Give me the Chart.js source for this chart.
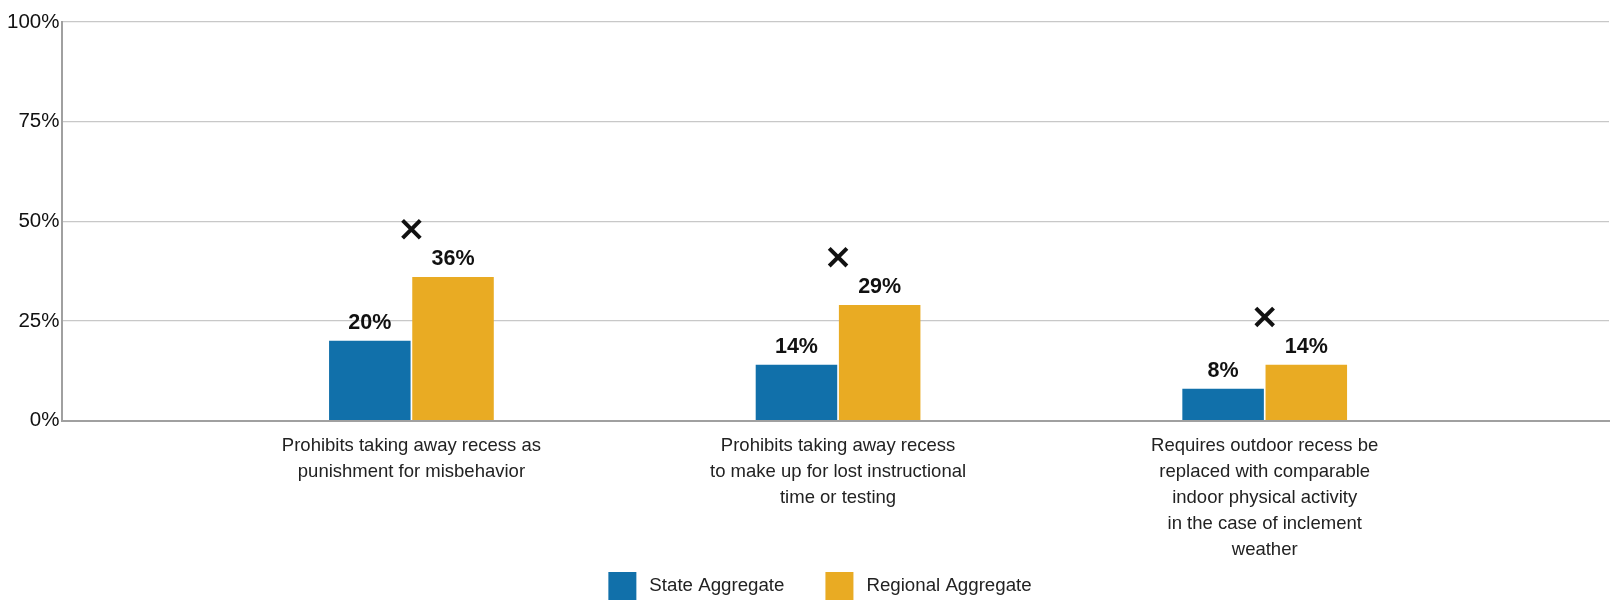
<!DOCTYPE html>
<html>
<head>
<meta charset="utf-8">
<script src="https://cdn.jsdelivr.net/npm/chart.js@4.4.1/dist/chart.umd.min.js"></script>
<style>
html,body{margin:0;padding:0;background:#fff;}
#wrap{width:1611px;height:602px;position:relative;}
</style>
</head>
<body>
<div id="wrap"><canvas id="c" width="1611" height="602"></canvas></div>
<script>
const categories = [
  ["Prohibits taking away recess as", "punishment for misbehavior"],
  ["Prohibits taking away recess", "to make up for lost instructional", "time or testing"],
  ["Requires outdoor recess be", "replaced with comparable", "indoor physical activity", "in the case of inclement", "weather"]
];
const stateValues = [20, 14, 8];
const regionalValues = [36, 29, 14];
const markerValues = [48, 41, 26];
const yTicks = [0, 25, 50, 75, 100];
const seriesNames = ["State Aggregate", "Regional Aggregate"];

const FONT = "'Liberation Sans', Arial, sans-serif";

const labelPlugin = {
  id: 'barLabels',
  afterDatasetsDraw(chart) {
    const ctx = chart.ctx;
    ctx.save();
    ctx.font = "bold 21.5px " + FONT;
    ctx.fillStyle = "#111";
    ctx.textAlign = "center";
    ctx.textBaseline = "alphabetic";
    [0, 1].forEach(di => {
      const meta = chart.getDatasetMeta(di);
      meta.data.forEach((el, i) => {
        const v = chart.data.datasets[di].data[i].y;
        ctx.fillText(v + "%", el.x, el.y - 12);
      });
    });
    ctx.restore();
  }
};

// legend drawn below the axis labels (box 28px, 13px to text, 41px between items)
const legendPlugin = {
  id: 'customLegend',
  afterDraw(chart) {
    const ctx = chart.ctx;
    ctx.save();
    ctx.font = "18.7px " + FONT;
    const items = [0, 1].map(i => ({
      text: chart.data.datasets[i].label,
      color: chart.data.datasets[i].backgroundColor
    }));
    const box = 28, gap = 13, between = 41;
    const widths = items.map(it => box + gap + ctx.measureText(it.text).width);
    const total = widths.reduce((a, b) => a + b, 0) + between * (items.length - 1);
    let x = 820 - total / 2;
    const top = 572;
    items.forEach((it, i) => {
      ctx.fillStyle = it.color;
      ctx.fillRect(x, top, box, box);
      ctx.fillStyle = '#222';
      ctx.textAlign = 'left';
      ctx.textBaseline = 'middle';
      ctx.fillText(it.text, x + box + gap, top + box / 2);
      x += widths[i] + between;
    });
    ctx.restore();
  }
};

const toPts = arr => arr.map((v, i) => ({x: i, y: v}));

new Chart(document.getElementById('c'), {
  type: 'bar',
  data: {
    datasets: [
      {
        label: seriesNames[0],
        data: toPts(stateValues),
        backgroundColor: '#1170aa',
        categoryPercentage: 0.39,
        barPercentage: 0.98,
        order: 2
      },
      {
        label: seriesNames[1],
        data: toPts(regionalValues),
        backgroundColor: '#e9ab23',
        categoryPercentage: 0.39,
        barPercentage: 0.98,
        order: 2
      },
      {
        type: 'line',
        label: 'marker',
        data: toPts(markerValues),
        showLine: false,
        pointStyle: 'crossRot',
        pointRadius: 12.5,
        pointBorderWidth: 4,
        borderColor: '#111',
        backgroundColor: '#111',
        clip: false,
        order: 1
      }
    ]
  },
  options: {
    responsive: false,
    animation: false,
    layout: { autoPadding: false, padding: { top: 22, right: 2, left: 4, bottom: 27 } },
    plugins: {
      legend: { display: false },
      tooltip: { enabled: false }
    },
    scales: {
      x: {
        type: 'linear',
        offset: false,
        min: -0.818,
        max: 2.807,
        afterBuildTicks: s => { s.ticks = categories.map((c, i) => ({value: i})); },
        afterFit: s => { s.paddingLeft = 0; s.paddingRight = 0; },
        grid: { display: false, drawTicks: false, offset: false },
        border: { display: true, color: '#a0a0a0', width: 2 },
        ticks: {
          padding: 12,
          color: '#222',
          maxRotation: 0,
          autoSkip: false,
          font: { family: FONT, size: 18.5, lineHeight: 1.41 },
          callback: v => categories[v]
        }
      },
      y: {
        min: 0,
        max: 100,
        afterBuildTicks: s => { s.ticks = yTicks.map(v => ({value: v})); },
        grid: { color: '#c8c8c8', lineWidth: 1.2, drawTicks: false },
        border: { display: true, color: '#a0a0a0', width: 2 },
        ticks: {
          padding: 3,
          color: '#111',
          font: { family: FONT, size: 20.5 },
          callback: v => v + '%'
        }
      }
    }
  },
  plugins: [labelPlugin, legendPlugin]
});
</script>
</body>
</html>
